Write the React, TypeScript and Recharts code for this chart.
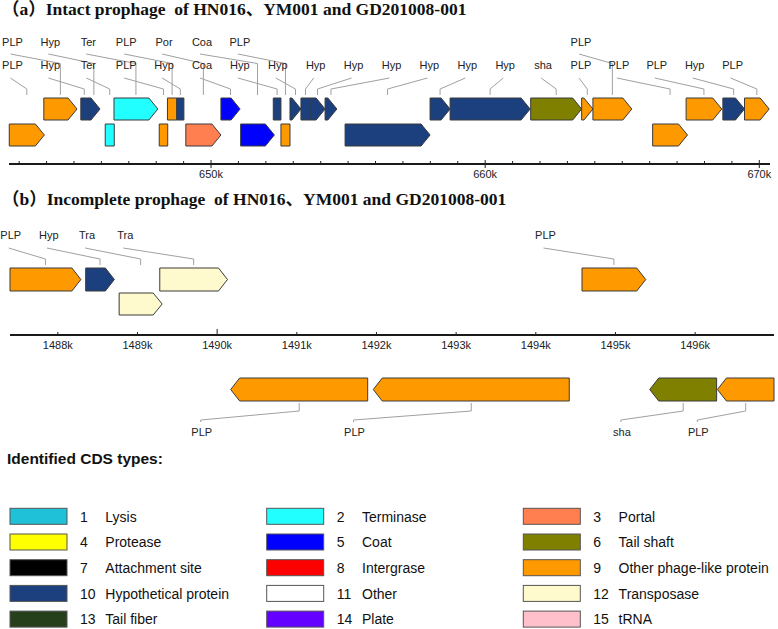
import React from 'react';
import { ComposedChart, XAxis, YAxis, Scatter, ReferenceArea } from 'recharts';

// (a) intact prophage, genes in kb
const intactStart = [642.64, 643.9, 645.25, 645.5, 646.14, 646.46, 648.11, 648.41, 648.75, 649.08, 650.36, 651.08, 652.27, 652.55, 652.88, 653.28, 653.61, 654.16, 654.89, 657.99, 658.72, 661.66, 663.52, 663.93, 666.11, 667.33, 668.67, 669.46];
const intactEnd = [643.92, 645.11, 645.5, 645.95, 646.47, 648.06, 648.42, 648.75, 649.01, 650.36, 651.06, 652.31, 652.55, 652.88, 653.28, 653.61, 654.16, 654.59, 657.99, 658.72, 661.64, 663.52, 663.93, 665.35, 667.38, 668.63, 669.46, 670.36];
const intactRow = [2, 1, 1, 1, 2, 1, 2, 1, 1, 2, 1, 2, 1, 2, 1, 1, 1, 1, 2, 1, 1, 1, 1, 1, 2, 1, 1, 1];
const intactStrand = [1, 1, 0, 1, 0, 1, 0, 0, 0, 1, 1, 1, 0, 0, 1, 0, 1, 1, 1, 1, 1, 1, 1, 1, 1, 1, 1, 1];
const intactType = ['PLP', 'PLP', 'Hyp', 'Hyp', 'Ter', 'Ter', 'PLP', 'PLP', 'Hyp', 'Por', 'Coa', 'Coa', 'Hyp', 'PLP', 'Hyp', 'Hyp', 'Hyp', 'Hyp', 'Hyp', 'Hyp', 'Hyp', 'sha', 'PLP', 'PLP', 'PLP', 'PLP', 'Hyp', 'PLP'];
// label tier (0 = upper line, 1 = lower line) and slot on the label grid
const intactTier = [1, 0, 1, 0, 1, 0, 1, 0, 1, 0, 1, 0, 1, 0, 1, 1, 1, 1, 1, 1, 1, 1, 1, 0, 1, 1, 1, 1];
const intactSlot = [0, 0, 1, 1, 2, 2, 3, 3, 4, 4, 5, 5, 6, 6, 7, 8, 9, 10, 11, 12, 13, 14, 15, 15, 16, 17, 18, 19];
const intactTicks = [643, 644, 645, 646, 647, 648, 649, 650, 651, 652, 653, 654, 655, 656, 657, 658, 659, 660, 661, 662, 663, 664, 665, 666, 667, 668, 669, 670];

// (b) incomplete prophage
const incompleteStart = [1487.4, 1488.35, 1488.77, 1489.28, 1494.58, 1490.17, 1491.96, 1495.43, 1496.28];
const incompleteEnd = [1488.29, 1488.71, 1489.31, 1490.13, 1495.38, 1491.89, 1494.42, 1496.27, 1496.99];
const incompleteRow = [1, 1, 2, 1, 1, 3, 3, 3, 3]; // 3 = below the axis
const incompleteStrand = [1, 1, 1, 1, 1, -1, -1, -1, -1];
const incompleteType = ['PLP', 'Hyp', 'Tra', 'Tra', 'PLP', 'PLP', 'PLP', 'sha', 'PLP'];
const incompleteSlot = [0, 1, 2, 3, 14, 5, 9, 16, 18];
const incompleteTicks = [1488, 1489, 1490, 1491, 1492, 1493, 1494, 1495, 1496];

// legend
const legendNumbers = [1, 2, 3, 4, 5, 6, 7, 8, 9, 10, 11, 12, 13, 14, 15];
const legendNames = ['Lysis', 'Terminase', 'Portal', 'Protease', 'Coat', 'Tail shaft', 'Attachment site', 'Intergrase', 'Other phage-like protein', 'Hypothetical protein', 'Other', 'Transposase', 'Tail fiber', 'Plate', 'tRNA'];
const legendColors = ['#1FC1D9', '#22FFFF', '#FF7F50', '#FFFF00', '#0000FF', '#7F7F00', '#000000', '#FF0000', '#FF9900', '#1C3F7E', '#FFFFFF', '#FFFACD', '#26401C', '#6400FF', '#FFC0CB'];

const TYPE_COLORS: Record<string, string> = {
  PLP: '#FF9900',
  Hyp: '#1C3F7E',
  Ter: '#22FFFF',
  Por: '#FF7F50',
  Coa: '#0000FF',
  sha: '#7F7F00',
  Tra: '#FFFACD'
};

const FONT = '"Liberation Sans", Arial, sans-serif';
const SERIF = '"Liberation Serif", "Times New Roman", "Noto Sans CJK SC", serif';

// gene arrow, drawn into the rect that ReferenceArea computes from the scales
const geneShape = (strand: number, fill: string) => (p: any) => {
  const { x, y, width: w, height: h } = p;
  const head = Math.min(9, w);
  let pts: string;
  if (strand > 0) {
    pts = `${x},${y} ${x + w - head},${y} ${x + w},${y + h / 2} ${x + w - head},${y + h} ${x},${y + h}`;
  } else if (strand < 0) {
    pts = `${x + w},${y} ${x + head},${y} ${x},${y + h / 2} ${x + head},${y + h} ${x + w},${y + h}`;
  } else {
    pts = `${x},${y} ${x + w},${y} ${x + w},${y + h} ${x},${y + h}`;
  }
  return <polygon points={pts} fill={fill} stroke="#3a3a3a" strokeWidth={1} />;
};

const slotX = (x0: number, step: number, slot: number) => x0 + step * slot;

// leader + label above the track (point sits at the bottom end of the leader)
const upperLabel = (x0: number, step: number) => (p: any) => {
  const { cx, cy, payload } = p;
  const lx = slotX(x0, step, payload.slot);
  const top = payload.tier === 0;
  const textY = cy + (top ? -52.7 : -30);
  const startY = cy + (top ? -41 : -17);
  const bendY = cy + (top ? -31.5 : -6);
  return (
    <g>
      <polyline points={`${lx - 2},${startY} ${cx},${bendY} ${cx},${cy}`} fill="none" stroke="#a0a0a0" strokeWidth={1} />
      <text x={lx} y={textY + 4} textAnchor="middle" fontSize={11} fill="#222">{payload.label}</text>
    </g>
  );
};

// leader + label below the track
const lowerLabel = (x0: number, step: number) => (p: any) => {
  const { cx, cy, payload } = p;
  const lx = slotX(x0, step, payload.slot);
  return (
    <g>
      <polyline points={`${cx},${cy} ${cx},${cy + 8} ${lx - 1},${cy + 17} ${lx - 1},${cy + 19}`} fill="none" stroke="#a0a0a0" strokeWidth={1} />
      <text x={lx} y={cy + 32.7} textAnchor="middle" fontSize={11} fill="#222">{payload.label}</text>
    </g>
  );
};

const IntactTick = ({ x, y, payload }: any) => {
  const major = payload.value % 10 === 0;
  return (
    <g>
      <line x1={x} x2={x} y1={major ? y - 4 : y - 3} y2={major ? y + 4 : y} stroke="#222" strokeWidth={1} />
      {major && (
        <text x={x} y={y + 14} textAnchor="middle" fontSize={11} fill="#222">{`${payload.value}k`}</text>
      )}
    </g>
  );
};

const IncompleteTick = ({ x, y, payload }: any) => {
  const major = payload.value % 10 === 0;
  return (
    <g>
      <line x1={x} x2={x} y1={major ? y - 6 : y - 3} y2={y} stroke="#222" strokeWidth={1} />
      <text x={x} y={y + 14} textAnchor="middle" fontSize={11} fill="#222">{`${payload.value}k`}</text>
    </g>
  );
};

const intactGenes = intactStart.map((s, i) => ({
  start: s,
  end: intactEnd[i],
  row: intactRow[i],
  strand: intactStrand[i],
  label: intactType[i],
  tier: intactTier[i],
  slot: intactSlot[i],
  x: (s + intactEnd[i]) / 2,
  y: 95
}));

const incompleteGenes = incompleteStart.map((s, i) => ({
  start: s,
  end: incompleteEnd[i],
  row: incompleteRow[i],
  strand: incompleteStrand[i],
  label: incompleteType[i],
  tier: 1,
  slot: incompleteSlot[i],
  x: (s + incompleteEnd[i]) / 2,
  y: incompleteRow[i] === 3 ? 403 : 265
}));

// vertical placement of the gene rows (page pixels)
const INTACT_ROWS: Record<number, [number, number]> = { 1: [98, 120], 2: [124, 146] };
const INCOMPLETE_ROWS: Record<number, [number, number]> = { 1: [268, 291], 2: [293, 315], 3: [378, 401] };

const INTACT_DOMAIN: [number, number] = [642.63, 670.39];
const INCOMPLETE_DOMAIN: [number, number] = [1487.4, 1496.99];

const IntactTrack = () => (
  <ComposedChart width={778} height={185} margin={{ top: 0, right: 8, bottom: 0, left: 9 }}>
    <XAxis
      type="number"
      dataKey="x"
      domain={INTACT_DOMAIN}
      ticks={intactTicks}
      interval={0}
      height={21}
      tickSize={0}
      tickMargin={0}
      tickLine={false}
      axisLine={{ stroke: '#1a1a1a', strokeWidth: 2 }}
      tick={<IntactTick />}
    />
    <YAxis type="number" dataKey="y" domain={[0, 164]} reversed hide />
    {intactGenes.map((g, i) => (
      <ReferenceArea
        key={i}
        x1={g.start}
        x2={g.end}
        y1={INTACT_ROWS[g.row][0]}
        y2={INTACT_ROWS[g.row][1]}
        ifOverflow="visible"
        shape={geneShape(g.strand, TYPE_COLORS[g.label])}
      />
    ))}
    <Scatter data={intactGenes} isAnimationActive={false} shape={upperLabel(12.5, 37.9)} />
  </ComposedChart>
);

const IncompleteTrackTop = () => {
  const genes = incompleteGenes.filter(g => g.row !== 3);
  return (
    <ComposedChart width={778} height={141} margin={{ top: 0, right: 4, bottom: 0, left: 10 }}>
      <XAxis
        type="number"
        dataKey="x"
        domain={INCOMPLETE_DOMAIN}
        ticks={incompleteTicks}
        interval={0}
        height={21}
        tickSize={0}
        tickMargin={0}
        tickLine={false}
        axisLine={{ stroke: '#1a1a1a', strokeWidth: 2 }}
        tick={<IncompleteTick />}
      />
      <YAxis type="number" dataKey="y" domain={[215, 335]} reversed hide />
      {genes.map((g, i) => (
        <ReferenceArea
          key={i}
          x1={g.start}
          x2={g.end}
          y1={INCOMPLETE_ROWS[g.row][0]}
          y2={INCOMPLETE_ROWS[g.row][1]}
          ifOverflow="visible"
          shape={geneShape(g.strand, TYPE_COLORS[g.label])}
        />
      ))}
      <Scatter data={genes} isAnimationActive={false} shape={upperLabel(10.7, 38.2)} />
    </ComposedChart>
  );
};

const IncompleteTrackBottom = () => {
  const genes = incompleteGenes.filter(g => g.row === 3);
  return (
    <ComposedChart width={778} height={80} margin={{ top: 0, right: 4, bottom: 0, left: 10 }}>
      <XAxis type="number" dataKey="x" domain={INCOMPLETE_DOMAIN} hide />
      <YAxis type="number" dataKey="y" domain={[360, 440]} reversed hide />
      {genes.map((g, i) => (
        <ReferenceArea
          key={i}
          x1={g.start}
          x2={g.end}
          y1={INCOMPLETE_ROWS[g.row][0]}
          y2={INCOMPLETE_ROWS[g.row][1]}
          ifOverflow="visible"
          shape={geneShape(g.strand, TYPE_COLORS[g.label])}
        />
      ))}
      <Scatter data={genes} isAnimationActive={false} shape={lowerLabel(10.7, 38.2)} />
    </ComposedChart>
  );
};

const LEGEND_COL_X = [10, 266.7, 523.3];

const TitlesAndLegend = () => (
  <svg width={778} height={629} style={{ position: 'absolute', left: 0, top: 0 }}>
    <text x={2} y={14.5} fontFamily={SERIF} fontWeight="bold" fontSize={17.5} fill="#111" xmlSpace="preserve">
      {'（a）Intact prophage  of HN016、YM001 and GD201008-001'}
    </text>
    <text x={2} y={205} fontFamily={SERIF} fontWeight="bold" fontSize={17.5} fill="#111" xmlSpace="preserve">
      {'（b）Incomplete prophage  of HN016、YM001 and GD201008-001'}
    </text>
    <text x={7} y={464} fontFamily={FONT} fontWeight="bold" fontSize={15.5} fill="#111">
      Identified CDS types:
    </text>
    {legendNumbers.map((n, i) => {
      const col = i % 3;
      const row = Math.floor(i / 3);
      const bx = LEGEND_COL_X[col];
      const by = 508.3 + row * 25.7;
      return (
        <g key={n}>
          <rect x={bx} y={by} width={57} height={16} fill={legendColors[i]} stroke="#555" strokeWidth={1} />
          <text x={bx + 70} y={by + 13.3} fontFamily={FONT} fontSize={14} fill="#111">{n}</text>
          <text x={bx + 95.3} y={by + 13.3} fontFamily={FONT} fontSize={14} fill="#111">{legendNames[i]}</text>
        </g>
      );
    })}
  </svg>
);

export default function App() {
  return (
    <div style={{ position: 'absolute', left: 0, top: 0, width: 778, height: 629, background: '#fff', fontFamily: FONT, overflow: 'hidden' }}>
      <TitlesAndLegend />
      <div style={{ position: 'absolute', left: 0, top: 0 }}>
        <IntactTrack />
      </div>
      <div style={{ position: 'absolute', left: 0, top: 215 }}>
        <IncompleteTrackTop />
      </div>
      <div style={{ position: 'absolute', left: 0, top: 360 }}>
        <IncompleteTrackBottom />
      </div>
    </div>
  );
}
